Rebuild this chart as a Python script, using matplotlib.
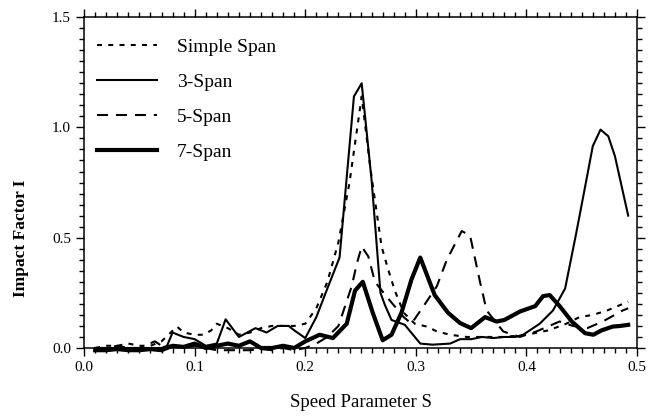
import numpy as np
import matplotlib
matplotlib.use('Agg')
import matplotlib.pyplot as plt
from matplotlib.ticker import MultipleLocator

plt.rcParams['font.family'] = ['Liberation Serif', 'DejaVu Serif']

# Simple span
x_simple = [0.01,0.02,0.03,0.04,0.05,0.06,0.07,0.084,0.09,0.10,0.108,0.115,0.12,0.13,0.14,0.15,0.16,0.17,0.18,0.19,0.20,0.21,0.22,0.23,0.24,0.251,0.259,0.265,0.269,0.275,0.281,0.289,0.299,0.31,0.319,0.331,0.346,0.36,0.38,0.40,0.42,0.436,0.448,0.46,0.473,0.492]
y_simple = [0.0,0.01,0.01,0.02,0.01,0.01,0.03,0.097,0.07,0.06,0.06,0.08,0.11,0.09,0.06,0.07,0.09,0.10,0.10,0.10,0.11,0.18,0.30,0.48,0.75,1.14,0.81,0.60,0.46,0.355,0.26,0.16,0.11,0.097,0.075,0.06,0.05,0.05,0.05,0.06,0.08,0.11,0.14,0.15,0.17,0.21]

# 3-span
x_3 = [0.01,0.02,0.03,0.04,0.05,0.06,0.07,0.075,0.08,0.09,0.10,0.11,0.12,0.128,0.14,0.155,0.165,0.175,0.185,0.19,0.20,0.21,0.22,0.231,0.244,0.251,0.26,0.268,0.272,0.278,0.29,0.304,0.315,0.331,0.34,0.35,0.36,0.37,0.38,0.39,0.397,0.412,0.424,0.435,0.445,0.453,0.46,0.467,0.474,0.48,0.492]
y_3 = [0.0,0.0,0.0,0.0,0.0,0.0,0.0,0.01,0.07,0.05,0.04,0.01,0.02,0.13,0.05,0.09,0.07,0.10,0.10,0.08,0.045,0.14,0.27,0.41,1.14,1.20,0.76,0.25,0.195,0.127,0.105,0.02,0.015,0.02,0.04,0.04,0.05,0.045,0.05,0.05,0.06,0.11,0.17,0.27,0.52,0.73,0.915,0.99,0.96,0.87,0.60]

# 5-span
x_5 = [0.01,0.02,0.03,0.04,0.05,0.064,0.07,0.08,0.09,0.10,0.11,0.12,0.13,0.14,0.15,0.16,0.17,0.18,0.19,0.20,0.21,0.22,0.23,0.242,0.2465,0.251,0.257,0.263,0.274,0.289,0.296,0.307,0.319,0.328,0.3415,0.349,0.358,0.364,0.379,0.394,0.409,0.43,0.442,0.455,0.469,0.487,0.492]
y_5 = [0.0,0.0,0.01,0.0,0.0,0.03,0.01,0.01,0.0,0.01,0.0,-0.01,-0.01,-0.01,-0.01,-0.005,-0.01,0.0,-0.01,0.0,0.02,0.05,0.10,0.28,0.38,0.46,0.415,0.30,0.23,0.14,0.11,0.19,0.28,0.40,0.53,0.51,0.30,0.17,0.075,0.05,0.075,0.12,0.10,0.09,0.12,0.17,0.18]

# 7-span
x_7 = [0.01,0.02,0.03,0.04,0.05,0.06,0.07,0.08,0.09,0.10,0.11,0.12,0.13,0.14,0.15,0.16,0.17,0.18,0.19,0.20,0.213,0.225,0.2375,0.245,0.252,0.261,0.27,0.278,0.287,0.296,0.304,0.317,0.329,0.34,0.35,0.3626,0.373,0.38,0.394,0.408,0.415,0.421,0.43,0.441,0.453,0.4605,0.468,0.478,0.485,0.492]
y_7 = [-0.01,-0.01,-0.005,-0.01,-0.01,-0.005,-0.01,0.01,0.005,0.02,0.0,0.01,0.02,0.01,0.03,0.0,0.0,0.01,0.0,0.03,0.06,0.045,0.11,0.26,0.30,0.16,0.035,0.06,0.16,0.31,0.41,0.24,0.16,0.113,0.09,0.14,0.12,0.127,0.165,0.19,0.235,0.24,0.19,0.12,0.067,0.06,0.08,0.097,0.10,0.105]

fig = plt.figure(figsize=(6.57,4.17), dpi=100)
ax = fig.add_axes([0.128, 0.1655, 0.8416, 0.7935])

ax.plot(x_simple, y_simple, color='black', lw=1.5, linestyle=(0,(2.4,3.0)), label='Simple Span', clip_on=False)
ax.plot(x_3, y_3, color='black', lw=1.5, label='3-Span', clip_on=False)
ax.plot(x_5, y_5, color='black', lw=1.5, linestyle=(0,(5.3,3.8)), label='5-Span', clip_on=False)
ax.plot(x_7, y_7, color='black', lw=3.0, label='7-Span', clip_on=False)

ax.set_xlim(0, 0.5)
ax.set_ylim(0, 1.5)
ax.xaxis.set_major_locator(MultipleLocator(0.1))
ax.xaxis.set_minor_locator(MultipleLocator(0.01))
ax.yaxis.set_major_locator(MultipleLocator(0.5))
ax.yaxis.set_minor_locator(MultipleLocator(0.05))
ax.xaxis.set_major_formatter(matplotlib.ticker.FormatStrFormatter('%.1f'))
ax.yaxis.set_major_formatter(matplotlib.ticker.FormatStrFormatter('%.1f'))
ax.tick_params(which='both', direction='out', top=True, right=True, labelsize=11, width=1.0)
ax.tick_params(which='major', length=6)
ax.tick_params(which='minor', length=3.5)
for s in ax.spines.values():
    s.set_linewidth(1.1)

ax.set_xlabel('Speed Parameter S', fontsize=13.5, labelpad=14)
ax.set_ylabel('Impact Factor I', fontsize=12.5, fontweight='bold')
ax.yaxis.set_label_coords(-0.1, 0.33)

ax.legend(loc='upper left', bbox_to_anchor=(-0.008, 0.99), frameon=False, fontsize=14,
          handlelength=3.1, handletextpad=1.0, labelspacing=0.9)

fig.savefig('out.png', dpi=100)
